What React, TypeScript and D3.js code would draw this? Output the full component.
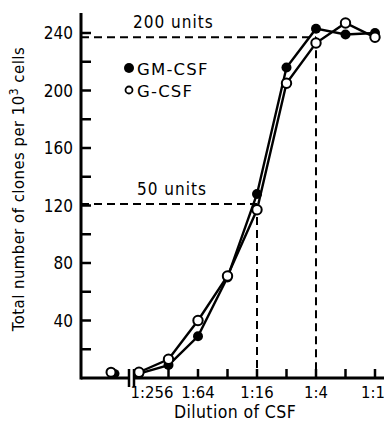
import React from 'react';
import * as d3 from 'd3';

// dilution steps, left to right (log2 spacing)
const dilutions = ['1:256', '1:128', '1:64', '1:32', '1:16', '1:8', '1:4', '1:2', '1:1'];
const labelledDilutions = ['1:256', '1:64', '1:16', '1:4', '1:1'];
const gmCsf = [3, 9, 29, 70, 128, 216, 243, 239, 240];
const gCsf = [4, 13, 40, 71, 117, 205, 233, 247, 237];
const controlValues = { gm: 3, g: 4 };
const yTicks = [40, 80, 120, 160, 200, 240];
const yMinorTicks = [20, 40, 60, 80, 100, 120, 140, 160, 180, 200, 220, 240];
// reference levels: [value, dilution, label]
const refLines: [number, string, string][] = [
  [237, '1:4', '200 units'],
  [121, '1:16', '50 units'],
];

const W = 384;
const H = 426;
const FONT = '"DejaVu Sans Condensed", "DejaVu Sans", sans-serif';

const App: React.FC = () => {
  const x0 = 81;
  const x = d3.scaleLinear().domain([0, dilutions.length - 1]).range([139, 375]);
  const y = d3.scaleLinear().domain([0, 240]).range([378, 33]);
  const controlX = 111;
  const breakX = 129;

  const line = d3
    .line<number>()
    .x((_, i) => x(i))
    .y((d) => y(d));

  return (
    <svg
      width={W}
      height={H}
      style={{ position: 'absolute', left: 0, top: 0, background: '#fff' }}
      fontFamily={FONT}
    >
      {/* reference dashed lines */}
      {refLines.map(([v, dil, label]) => {
        const xi = x(dilutions.indexOf(dil));
        return (
          <g key={label} stroke="#000" strokeWidth={2} strokeDasharray="8,5" fill="none">
            <line x1={x0} x2={xi} y1={y(v)} y2={y(v)} />
            <line x1={xi} x2={xi} y1={y(v)} y2={y(0)} />
          </g>
        );
      })}
      <text x={133} y={28} fontSize={17} letterSpacing={1}>200 units</text>
      <text x={137} y={195} fontSize={17} letterSpacing={1}>50 units</text>

      {/* axes */}
      <line x1={x0} x2={x0} y1={13} y2={y(0) + 1.5} stroke="#000" strokeWidth={3} />
      <line x1={x0} x2={breakX} y1={y(0)} y2={y(0)} stroke="#000" strokeWidth={3} />
      <line x1={breakX + 5} x2={W} y1={y(0)} y2={y(0)} stroke="#000" strokeWidth={3} />
      <line x1={breakX} x2={breakX} y1={y(0) - 9} y2={y(0) + 9} stroke="#000" strokeWidth={2.5} />
      <line x1={breakX + 5} x2={breakX + 5} y1={y(0) - 9} y2={y(0) + 9} stroke="#000" strokeWidth={2.5} />

      {yMinorTicks.map((t) => (
        <line key={t} x1={x0} x2={x0 + 10} y1={y(t)} y2={y(t)} stroke="#000" strokeWidth={2.5} />
      ))}
      {yTicks.map((t) => (
        <text key={t} x={73} y={y(t) + 6} fontSize={17} textAnchor="end">{t}</text>
      ))}
      {dilutions.map((d, i) => (
        <line key={d} x1={x(i)} x2={x(i)} y1={y(0)} y2={y(0) - 9} stroke="#000" strokeWidth={2.5} />
      ))}
      {labelledDilutions.map((d) => {
        const i = dilutions.indexOf(d);
        return (
          <text key={d} x={x(i) + (i === 0 ? 13 : i === dilutions.length - 1 ? -2 : 0)} y={398} fontSize={16.5} textAnchor="middle">
            {d}
          </text>
        );
      })}

      <text x={235} y={418} fontSize={17.5} textAnchor="middle" letterSpacing={0.4}>Dilution of CSF</text>
      <text
        transform="translate(24,189) rotate(-90)"
        fontSize={16.5}
        textAnchor="middle"
        letterSpacing={0.5}
      >
        Total number of clones per 10<tspan dy={-6} fontSize={12}>3</tspan>
        <tspan dy={6}> cells</tspan>
      </text>

      {/* series */}
      <path d={line(gmCsf) ?? ''} fill="none" stroke="#000" strokeWidth={2.4} />
      <path d={line(gCsf) ?? ''} fill="none" stroke="#000" strokeWidth={2.4} />
      <circle cx={controlX + 4} cy={y(controlValues.gm)} r={4.5} fill="#000" />
      <circle cx={controlX} cy={y(controlValues.g)} r={4.5} fill="#fff" stroke="#000" strokeWidth={2} />
      {gmCsf.map((v, i) => (
        <circle key={'gm' + i} cx={x(i)} cy={y(v)} r={5} fill="#000" />
      ))}
      {gCsf.map((v, i) => (
        <circle key={'g' + i} cx={x(i)} cy={y(v)} r={4.7} fill="#fff" stroke="#000" strokeWidth={2} />
      ))}

      {/* legend */}
      <g fontFamily='"DejaVu Sans", sans-serif' fontSize={16.5} letterSpacing={1.2}>
        <circle cx={129} cy={68} r={5} fill="#000" />
        <text x={137} y={75}>GM-CSF</text>
        <circle cx={129} cy={90} r={3.5} fill="#fff" stroke="#000" strokeWidth={1.8} />
        <text x={137} y={97}>G-CSF</text>
      </g>
    </svg>
  );
};

export default App;
